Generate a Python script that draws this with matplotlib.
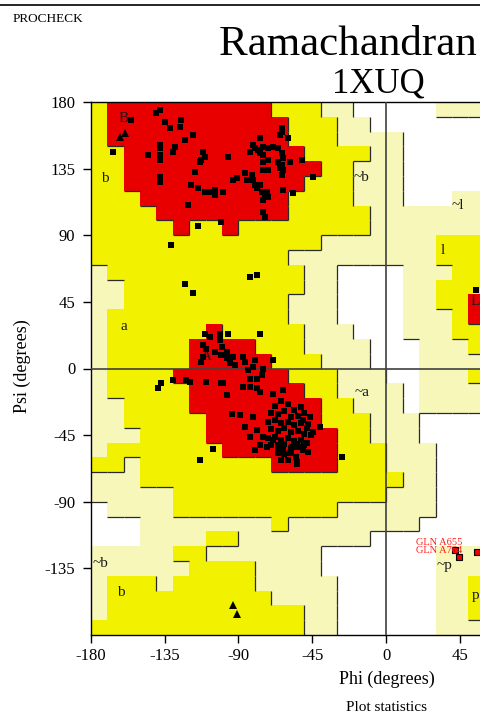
import matplotlib
matplotlib.use('Agg')
import matplotlib.pyplot as plt
from matplotlib.colors import ListedColormap
from matplotlib.collections import LineCollection
import numpy as np

plt.rcParams['font.family'] = ['Liberation Serif', 'DejaVu Serif']

# region map in 10 degree cells.
# one string per phi column (left edge given), runs go from psi 180 down to -180
# R = core, Y = allowed, L = generously allowed, W = disallowed
phi_cols = [-180, -170, -160, -150, -140, -130, -120, -110, -100, -90, -80, -70,
            -60, -50, -40, -30, -20, -10, 0, 10, 20, 30, 40, 50]
region_runs = [
    "Y11 L13 Y1 L2 W3 L5 Y1",
    "R3 Y9 L2 Y6 L3 Y2 L3 W2 L2 Y4",
    "R6 Y16 L1 Y1 L4 W2 L2 Y4",
    "R7 Y19 L6 Y4",
    "R8 Y18 L7 Y3",
    "R9 Y9 R1 Y9 L2 Y1 L1 Y4",
    "R8 Y8 R5 Y7 L2 Y6",
    "R8 Y7 R8 Y5 L1 Y1 L1 Y5",
    "R9 Y7 R8 Y4 L1 Y1 L1 Y5",
    "R8 Y8 R8 Y4 L3 Y5",
    "R8 Y9 R7 Y4 L5 Y3",
    "Y1 R7 Y10 R7 Y4 L5 Y2",
    "Y3 R3 Y4 L1 Y2 L2 Y4 R6 Y3 L6 Y2",
    "Y4 R1 Y5 L7 Y3 R5 Y3 L8",
    "L1 Y8 L9 Y4 R3 Y3 L2 W2 L4",
    "L3 Y6 L2 W4 L5 Y7 L3 W6",
    "W1 L2 Y1 L3 Y2 L2 W5 L5 Y6 L3 W6",
    "W2 L9 W7 L5 Y4 L2 W7",
    "W2 L9 W8 L6 Y1 L3 W7",
    "W7 L9 W5 L8 W7",
    "W7 L14 W2 L5 W8",
    "L1 W6 L2 Y2 L1 Y2 L7 W9 L6",
    "L1 W5 L3 Y7 L5 W9 L6",
    "L1 W5 L3 Y4 R2 Y2 L1 Y1 L2 W9 L2 Y3 L1",
]

# residues (phi, psi)
gen_phi = [-155.3, -166.4, -140.1, -138.0, -135.0, -131.9, -124.8, -125.8, -122.8, -117.7,
           -138.0, -138.0, -138.0, -138.0, -128.9, -129.9, -145.1, -111.6, -110.6, -112.7,
           -113.6, -116.7, -138.0, -138.0, -118.8, -114.7, -110.6, -107.6, -104.5, -104.5,
           -120.8, -114.7, -100.5, -130.9, -122.8, -117.7,
           -63.7, -63.7, -59.7, -64.7, -76.9, -81.0, -80.0, -83.0, -78.0, -74.9,
           -71.9, -68.8, -65.8, -63.7, -62.7, -76.9, -74.9, -96.2, -74.9, -71.9,
           -65.8, -63.7, -64.7, -58.6, -51.5, -74.9, -71.9, -62.7, -63.7, -86.0,
           -82.0, -91.1, -93.2, -85.0, -81.0, -80.0, -78.9, -76.9, -75.9, -72.8,
           -44.5, -62.7, -56.6, -99.3, -74.9, -71.9, -73.9, -74.9, -73.9, -83.0, -78.9,
           -110.6, -107.6, -101.5, -101.5, -111.6, -109.6, -104.5, -100.5, -111.6, -112.7,
           -129.9, -121.8, -119.7, -109.6, -100.5, -137.0, -139.0, -105.5, -113.6,
           -96.2, -76.9, -100.2, -97.2, -97.2, -93.2, -95.2, -92.1, -87.1, -86.1,
           -80.0, -81.0, -74.9, -68.8, -84.0, -83.0, -78.9, -75.9, -99.3, -97.2,
           -87.1, -83.0, -78.9, -76.9, -62.7, -68.8, -94.2, -89.1, -86.1, -81.0,
           -78.9, -83.0, -74.9, -76.9, -80.0, -72.8, -46.5, -50.5, -47.5, -40.4,
           -44.5, -50.5, -47.5, -58.6, -54.6, -27.2, -68.8, -65.8, -62.7, -57.6,
           -54.6, -54.6,
           -68, -64, -60, -56, -52, -70, -66, -62, -58, -54, -50,
           -72, -68, -64, -60, -56, -52, -48, -70, -66, -62, -58, -54, -50, -46,
           -72, -68, -64, -60, -56, -52, -48, -70, -66, -62, -58, -54, -50,
           -66, -62, -58, -55, -60, -64,
           54.4]
gen_psi = [167.8, 146.4, 172.3, 174.5, 166.6, 162.2, 167.8, 163.2, 154.3, 157.6,
           150.9, 148.6, 144.1, 140.7, 149.7, 146.4, 144.1, 146.4, 143.0, 140.7,
           139.6, 132.8, 129.5, 126.1, 123.9, 121.6, 119.3, 119.3, 120.5, 117.1,
           110.3, 96.4, 99.1, 83.3, 57.4, 50.7,
           162.2, 159.9, 155.4, 157.6, 155.4, 150.9, 148.6, 146.4, 147.5, 149.7,
           148.6, 149.7, 148.6, 145.3, 141.9, 145.3, 144.1, 143.0, 139.6, 140.7,
           139.6, 137.4, 135.1, 139.6, 140.7, 134.0, 134.0, 134.0, 130.6, 131.8,
           130.6, 128.4, 127.2, 127.2, 127.2, 123.9, 121.6, 123.9, 119.3, 119.3,
           129.5, 120.5, 118.2, 119.3, 113.7, 115.9, 117.1, 105.8, 102.4, 61.9, 63.0,
           23.6, 21.4, 23.6, 19.1, 15.7, 13.5, 11.2, 9.0, 7.8, 4.5,
           -7.9, -7.9, -9.1, -9.1, -10.1, -10.1, -13.5, -54.1, -62.0,
           23.6, 23.6, 14.6, 11.2, 6.8, 7.8, 3.4, 2.2, 7.8, 4.5,
           5.6, 1.1, 0.0, 5.6, -1.1, -6.8, -6.8, -4.5, -10.1, -18.0,
           -12.4, -12.4, -13.5, -15.8, -14.7, -16.9, -30.4, -31.6, -39.5, -32.7,
           -41.7, -46.2, -46.2, -51.8, -55.2, -53.0, -32.7, -34.9, -37.2, -39.5,
           -42.8, -55.2, -56.4, -57.4, -63.1, -59.7, -48.4, -51.8, -55.2, -53.0,
           -50.7, -64.2,
           -25, -22, -24, -28, -26, -30, -31, -29, -33, -32, -30,
           -36, -35, -37, -36, -38, -37, -40, -41, -42, -40, -43, -42, -44, -45,
           -47, -46, -48, -47, -49, -48, -50, -52, -53, -51, -54, -53, -52,
           -57, -58, -56, -60, -62, -62,
           52.9]
gly_phi = [-162.4, -159.3, -93.2, -91.1]
gly_psi = [156.5, 158.8, -159.9, -165.5]
out_phi = [42.0, 44.1, 55.2]
out_psi = [-122.8, -127.3, -123.9]
out_names = ["GLN A655", "GLN A764"]

region_labels = [("B", -160.2, 168.9), ("b", -171.3, 128.0), ("a", -159.7, 28.7),
                 ("A", -109.8, 7.8), ("~b", -14.8, 129.0), ("~a", -14.8, -15.9),
                 ("~l", 43.7, 110.4), ("l", 34.7, 80.0), ("~b", -174.2, -131.7),
                 ("b", -161.4, -151.3), ("~p", 35.7, -133.0), ("p", 54.6, -153.0),
                 ("L", 54.0, 45.0)]

ticks = [-180, -135, -90, -45, 0, 45, 90, 135, 180]

level = {'W': 0, 'L': 1, 'Y': 2, 'R': 3}


def decode(runs):
    cells = []
    for tok in runs.split():
        cells += [level[tok[0]]] * int(tok[1:])
    return cells


grid = np.array([decode(s) for s in region_runs]).T   # rows: psi from top
nrow, ncol = grid.shape
phi_edges = np.array(phi_cols + [phi_cols[-1] + 10])
psi_edges = 180 - 10 * np.arange(nrow + 1)

W, H = 480, 715
fig = plt.figure(figsize=(W / 100, H / 100), dpi=100)
ax = fig.add_axes([90.7 / W, 80 / H, 591.2 / W, 533 / H])

cmap = ListedColormap(['#ffffff', '#f6f7b8', '#f2f200', '#e80000'])
ax.pcolormesh(phi_edges, psi_edges, grid, cmap=cmap, vmin=-0.5, vmax=3.5,
              shading='flat', antialiased=False, zorder=1)

# dark edge lines on the lower / right side of better regions
segs = []
for r in range(nrow):
    for c in range(ncol):
        top = psi_edges[r]
        left = phi_edges[c]
        if r < nrow - 1 and grid[r, c] > grid[r + 1, c]:
            segs.append([(left, top - 10), (left + 10, top - 10)])
        if c < ncol - 1 and grid[r, c] > grid[r, c + 1]:
            segs.append([(left + 10, top), (left + 10, top - 10)])
ax.add_collection(LineCollection(segs, colors='#2a2a2a', linewidths=0.9, zorder=2))

ax.axhline(0, color='#404040', lw=1.2, zorder=3)
ax.axvline(0, color='#404040', lw=1.2, zorder=3)

for txt, x, y in region_labels:
    ax.text(x, y, txt, fontsize=11, ha='center', va='center', color='#1a1a1a', zorder=4)

ax.plot(gen_phi, gen_psi, 's', color='black', ms=5, mew=0, zorder=5)
ax.plot(gly_phi, gly_psi, '^', color='black', ms=5.5, mew=0, zorder=5)
ax.plot(out_phi, out_psi, 's', color='#ee0000', ms=5, mec='black', mew=0.8, zorder=5)
ax.text(18.1, -119.4, out_names[0], color='#ff2020', fontsize=7.5, zorder=6)
ax.text(18.1, -124.3, out_names[1], color='#ff2020', fontsize=7.5, zorder=6)

ax.set_xlim(-180, 180)
ax.set_ylim(-180, 180)
ax.set_xticks(ticks)
# labels past 45 fall outside the cropped picture
ax.set_xticklabels([str(t) if t <= 45 else '' for t in ticks])
ax.set_yticks(ticks[1:])
ax.set_yticklabels([str(t) for t in ticks[1:]])
ax.tick_params(direction='out', length=6, width=1, labelsize=12, color='black')
ax.tick_params(axis='x', pad=3)
ax.tick_params(axis='y', pad=5)
for sp in ax.spines.values():
    sp.set_linewidth(1)

fig.add_artist(plt.Line2D([0, 1], [1 - 5 / H, 1 - 5 / H], color='black', lw=1.2))
fig.text(13 / W, 1 - 22 / H, 'PROCHECK', fontsize=9.5, ha='left', va='baseline')
fig.text(388 / W, 1 - 55 / H, 'Ramachandran Plot', fontsize=31, ha='center', va='baseline')
fig.text(378 / W, 1 - 92 / H, '1XUQ', fontsize=25, ha='center', va='baseline')
fig.text(387 / W, 1 - 684 / H, 'Phi (degrees)', fontsize=13, ha='center', va='baseline')
fig.text(386 / W, 1 - 711 / H, 'Plot statistics', fontsize=11, ha='center', va='baseline')
fig.text(22 / W, 1 - 366 / H, 'Psi (degrees)', fontsize=13, ha='center', va='center',
         rotation=90)

fig.savefig('out.png', dpi=100)
